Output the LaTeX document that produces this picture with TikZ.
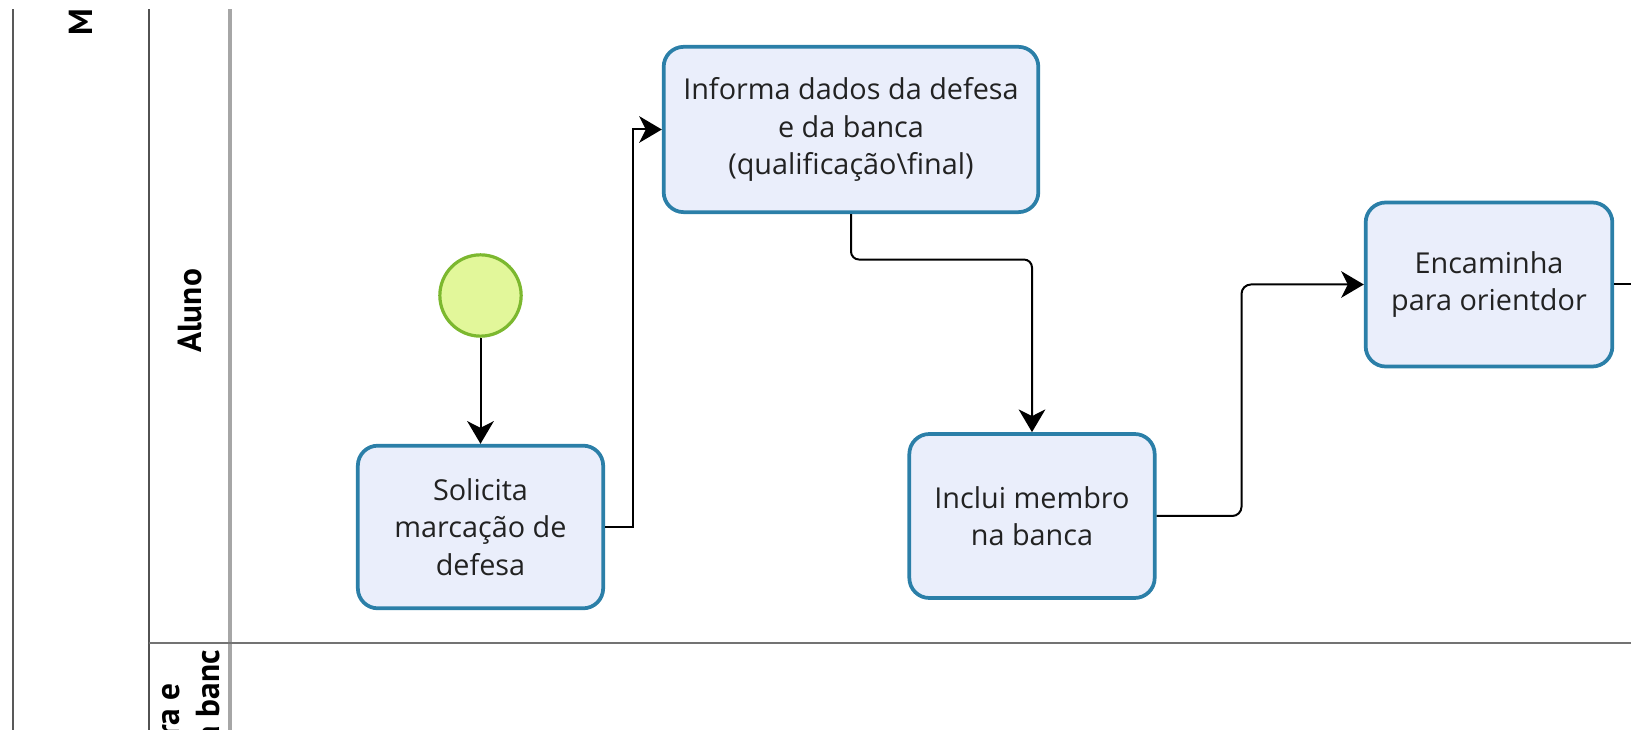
\documentclass[tikz,border=0pt]{standalone}
\usepackage{fontspec}
\setmainfont{Open Sans}
\newfontfamily\lanefont{PT Sans}
\usetikzlibrary{arrows.meta}
\definecolor{taskborder}{HTML}{2B7FA8}
\definecolor{taskfill}{HTML}{EAEEFB}
\definecolor{startfill}{HTML}{E2F79A}
\definecolor{startborder}{HTML}{7CB82F}
\definecolor{txt}{HTML}{222222}
\tikzset{
  task/.style={draw=taskborder, fill=taskfill, line width=2.8pt, rounded corners=15pt,
    align=center, text=txt, inner sep=0pt,
    font=\fontsize{21.6pt}{28pt}\selectfont},
  startev/.style={circle, draw=startborder, fill=startfill, line width=2.4pt,
    minimum size=61pt, inner sep=0pt},
  flow/.style={draw=black, line width=1.5pt, -{Stealth[length=17pt,width=20pt,inset=5pt]}},
  lanelabel/.style={rotate=90, inner sep=0pt, text=black,
    font=\lanefont\bfseries\fontsize{25pt}{28pt}\selectfont},
  laneline/.style={draw=#1, line width=1.6pt}
}
\begin{document}
\begin{tikzpicture}[x=0.75pt, y=-0.75pt]
\useasboundingbox (0,0) rectangle (1631,730);
\begin{scope}
\clip (0,10) rectangle (1631,730);
% pool and lanes
\draw[laneline=black!65] (13,0) -- (13,740);
\draw[laneline=black!68] (149,0) -- (149,740);
\draw[draw=black!35, line width=2.3pt] (230,0) -- (230,740);
\draw[laneline=black!55] (149,643) -- (1640,643);
% labels
\node[lanelabel, anchor=west] (pool) at (81,36) {M};
\node[lanelabel] (aluno) at (190,311) {Aluno};
\node[lanelabel, anchor=east] (lane2a) at (171,683) {ra e};
\node[lanelabel, anchor=east] (lane2b) at (208,650) {a banc};
% nodes
\node[startev] (start) at (480.5,295.5) {};
\node[task, minimum width=184pt, minimum height=122pt] (sol) at (480.5,527)
  {Solicita\\marcação de\\defesa};
\node[task, minimum width=281pt, minimum height=124pt] (inf) at (851,129.5)
  {Informa dados da defesa\\e da banca\\(qualificação\textbackslash final)};
\node[task, minimum width=184pt, minimum height=123pt] (inc) at (1032,516)
  {Inclui membro\\na banca};
\node[task, minimum width=185pt, minimum height=123pt] (enc) at (1489,284.5)
  {Encaminha\\para orientdor};
\coordinate (out) at (1650,284.5);
% connectors
\draw[flow] (start) -- (sol);
\draw[flow] (sol.east) -- ++(28,0) |- (inf.west);
\draw[flow, rounded corners=6pt] (inf.south) -- ++(0,45.5) -| (inc.north);
\draw[flow, rounded corners=7pt] (inc.east) -- ++(85,0) |- (enc.west);
\draw[line width=1.5pt] (enc.east) -- (out);
\end{scope}
\end{tikzpicture}
\end{document}
